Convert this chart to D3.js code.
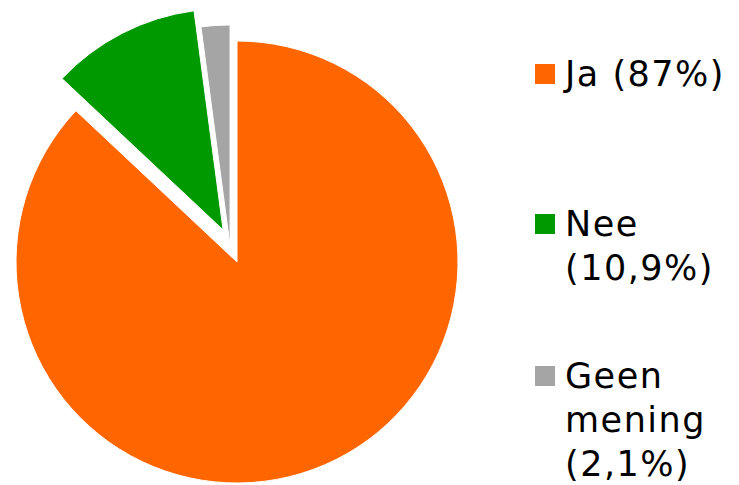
<!DOCTYPE html>
<html>
<head>
<meta charset="utf-8">
<script src="https://cdn.jsdelivr.net/npm/d3@7"></script>
<style>
  html, body { margin: 0; padding: 0; background: #fff; }
  svg { display: block; }
  .legend text { font-family: "DejaVu Sans", Verdana, sans-serif; font-size: 35px; letter-spacing: 1.5px; fill: #000; }
</style>
</head>
<body>
<svg id="chart" width="739" height="485"></svg>
<script>
// ---- data ----
const categories = ["Ja", "Nee", "Geen mening"];
const values = [87, 10.9, 2.1];
const legendLabels = [["Ja (87%)"], ["Nee", "(10,9%)"], ["Geen", "mening", "(2,1%)"]];

// ---- style ----
const colors = ["#FF6600", "#009900", "#A5A5A5"];
const explodeDist = [0, 35, 17.5];

const W = 739, H = 485;
const cx = 237, cy = 262, R = 221;

const svg = d3.select("#chart");

const pie = d3.pie().sort(null).value(d => d.value);
const arcs = pie(categories.map((c, i) => ({ cat: c, value: values[i], i })));
const arcGen = d3.arc().innerRadius(0).outerRadius(R);

// exploded slices share one direction: the middle of the exploded group
const exploded = arcs.filter((a, i) => explodeDist[i] > 0);
const groupMid = (d3.min(exploded, a => a.startAngle) + d3.max(exploded, a => a.endAngle)) / 2;

const g = svg.append("g").attr("transform", `translate(${cx},${cy})`);
g.selectAll("path")
  .data(arcs)
  .join("path")
  .attr("d", arcGen)
  .attr("fill", (d, i) => colors[i])
  .attr("stroke", "#fff")
  .attr("stroke-width", 1)
  .attr("transform", (d, i) => {
    const dist = explodeDist[i];
    const dx = Math.sin(groupMid) * dist, dy = -Math.cos(groupMid) * dist;
    return `translate(${dx},${dy})`;
  });

// ---- legend ----
const legendX = 535, textX = 565, lineH = 44;
const firstBaselines = [86, 236, 388];
const lg = svg.append("g").attr("class", "legend");
categories.forEach((c, i) => {
  const base = firstBaselines[i];
  lg.append("rect")
    .attr("x", legendX).attr("y", base - 22)
    .attr("width", 20).attr("height", 20)
    .attr("fill", colors[i]);
  const t = lg.append("text").attr("x", textX).attr("y", base);
  legendLabels[i].forEach((line, j) => {
    t.append("tspan").attr("x", textX).attr("y", base + j * lineH).text(line);
  });
});
</script>
</body>
</html>
